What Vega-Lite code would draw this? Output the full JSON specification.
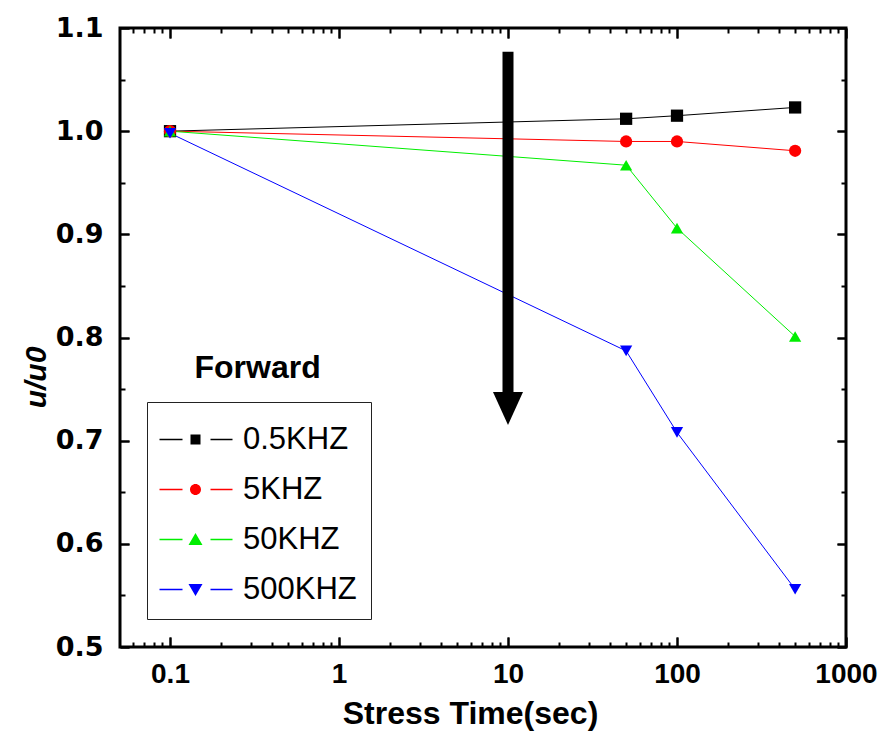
{
  "$schema": "https://vega.github.io/schema/vega-lite/v6.json",
  "width": 726,
  "height": 619,
  "autosize": {"type": "none"},
  "padding": {"left": 120, "top": 28, "right": 36, "bottom": 91},
  "background": "white",
  "view": {"stroke": "black", "strokeWidth": 3},
  "config": {"axis": {"grid": false, "labelColor": "black", "titleColor": "black", "labelOverlap": false, "labelFlush": false}},
  "layer": [
    {
      "data": {"values": [
        {"time": 0.1, "ratio": 1.0, "freq": "0.5KHZ"},
        {"time": 50, "ratio": 1.012, "freq": "0.5KHZ"},
        {"time": 100, "ratio": 1.015, "freq": "0.5KHZ"},
        {"time": 500, "ratio": 1.023, "freq": "0.5KHZ"},
        {"time": 0.1, "ratio": 1.0, "freq": "5KHZ"},
        {"time": 50, "ratio": 0.990, "freq": "5KHZ"},
        {"time": 100, "ratio": 0.990, "freq": "5KHZ"},
        {"time": 500, "ratio": 0.981, "freq": "5KHZ"},
        {"time": 0.1, "ratio": 1.0, "freq": "50KHZ"},
        {"time": 50, "ratio": 0.967, "freq": "50KHZ"},
        {"time": 100, "ratio": 0.906, "freq": "50KHZ"},
        {"time": 500, "ratio": 0.801, "freq": "50KHZ"},
        {"time": 0.1, "ratio": 0.998, "freq": "500KHZ"},
        {"time": 50, "ratio": 0.787, "freq": "500KHZ"},
        {"time": 100, "ratio": 0.708, "freq": "500KHZ"},
        {"time": 500, "ratio": 0.556, "freq": "500KHZ"}
      ]},
      "mark": {"type": "line", "strokeWidth": 1},
      "encoding": {
        "x": {
          "field": "time", "type": "quantitative",
          "scale": {"type": "log", "domain": [0.0506, 1000], "nice": false},
          "axis": {
            "orient": "bottom", "values": [0.1, 1, 10, 100, 1000], "format": "~g",
            "tickSize": -10, "tickColor": "black", "tickWidth": 2, "domain": false,
            "labelFont": "Liberation Sans", "labelFontWeight": "bold", "labelFontSize": 28, "labelPadding": 23,
            "title": "Stress Time(sec)", "titleFont": "Liberation Sans", "titleFontWeight": "bold", "titleFontSize": 32, "titlePadding": 10,
            "titleX": 350, "titleAlign": "center"
          }
        },
        "y": {
          "field": "ratio", "type": "quantitative",
          "scale": {"domain": [0.5, 1.1], "nice": false, "zero": false},
          "axis": {
            "orient": "left", "values": [0.5, 0.6, 0.7, 0.8, 0.9, 1.0, 1.1], "format": ".1f",
            "tickSize": -9, "tickColor": "black", "tickWidth": 2, "domain": false,
            "labelFont": "DejaVu Sans", "labelFontWeight": "bold", "labelFontSize": 27, "labelPadding": 26,
            "title": "u/u0", "titleFont": "Liberation Sans", "titleFontWeight": "bold", "titleFontStyle": "italic", "titleFontSize": 30, "titlePadding": 4,
            "titleY": 349, "titleAlign": "center"
          }
        },
        "color": {
          "field": "freq", "type": "nominal",
          "scale": {"domain": ["0.5KHZ", "5KHZ", "50KHZ", "500KHZ"], "range": ["#000000", "#ff0000", "#00ee00", "#0000ff"]},
          "legend": null
        }
      }
    },
    {
      "data": {"values": [
        {"time": 0.1, "ratio": 1.0, "freq": "0.5KHZ"},
        {"time": 50, "ratio": 1.012, "freq": "0.5KHZ"},
        {"time": 100, "ratio": 1.015, "freq": "0.5KHZ"},
        {"time": 500, "ratio": 1.023, "freq": "0.5KHZ"},
        {"time": 0.1, "ratio": 1.0, "freq": "5KHZ"},
        {"time": 50, "ratio": 0.990, "freq": "5KHZ"},
        {"time": 100, "ratio": 0.990, "freq": "5KHZ"},
        {"time": 500, "ratio": 0.981, "freq": "5KHZ"},
        {"time": 0.1, "ratio": 1.0, "freq": "50KHZ"},
        {"time": 50, "ratio": 0.967, "freq": "50KHZ"},
        {"time": 100, "ratio": 0.906, "freq": "50KHZ"},
        {"time": 500, "ratio": 0.801, "freq": "50KHZ"},
        {"time": 0.1, "ratio": 0.998, "freq": "500KHZ"},
        {"time": 50, "ratio": 0.787, "freq": "500KHZ"},
        {"time": 100, "ratio": 0.708, "freq": "500KHZ"},
        {"time": 500, "ratio": 0.556, "freq": "500KHZ"}
      ]},
      "mark": {"type": "point", "filled": true, "opacity": 1},
      "encoding": {
        "x": {
          "field": "time", "type": "quantitative",
          "axis": {"orient": "top", "values": [0.1, 1, 10, 100, 1000], "labels": false, "title": null, "tickSize": -10, "tickColor": "black", "tickWidth": 2, "domain": false}
        },
        "y": {
          "field": "ratio", "type": "quantitative",
          "axis": {"orient": "right", "values": [0.5, 0.6, 0.7, 0.8, 0.9, 1.0, 1.1], "labels": false, "title": null, "tickSize": -9, "tickColor": "black", "tickWidth": 2, "domain": false}
        },
        "color": {
          "field": "freq", "type": "nominal",
          "scale": {"domain": ["0.5KHZ", "5KHZ", "50KHZ", "500KHZ"], "range": ["#000000", "#ff0000", "#00ee00", "#0000ff"]},
          "legend": null
        },
        "shape": {
          "field": "freq", "type": "nominal",
          "scale": {"domain": ["0.5KHZ", "5KHZ", "50KHZ", "500KHZ"], "range": ["square", "circle", "triangle-up", "triangle-down"]},
          "legend": null
        },
        "size": {
          "field": "freq", "type": "nominal",
          "scale": {"domain": ["0.5KHZ", "5KHZ", "50KHZ", "500KHZ"], "range": [150, 150, 800, 800]},
          "legend": null
        }
      }
    },
    {
      "data": {"values": [
        {"time": 0.1, "ratio": 1.0, "freq": "0.5KHZ"},
        {"time": 0.1, "ratio": 1.0, "freq": "5KHZ"},
        {"time": 0.1, "ratio": 1.0, "freq": "50KHZ"},
        {"time": 0.1, "ratio": 0.998, "freq": "500KHZ"}
      ]},
      "mark": {"type": "point", "filled": true, "opacity": 0},
      "encoding": {
        "x": {
          "field": "time", "type": "quantitative",
          "axis": {"orient": "bottom", "values": [0.06,0.07,0.08,0.09,0.2,0.3,0.4,0.5,0.6,0.7,0.8,0.9,2,3,4,5,6,7,8,9,20,30,40,50,60,70,80,90,200,300,400,500,600,700,800,900], "labels": false, "title": null, "tickSize": -5, "tickColor": "black", "tickWidth": 2, "domain": false}
        },
        "y": {
          "field": "ratio", "type": "quantitative",
          "axis": {"orient": "left", "values": [0.55, 0.65, 0.75, 0.85, 0.95, 1.05], "labels": false, "title": null, "tickSize": -5, "tickColor": "black", "tickWidth": 2, "domain": false}
        },
        "color": {
          "field": "freq", "type": "nominal",
          "scale": {"domain": ["0.5KHZ", "5KHZ", "50KHZ", "500KHZ"], "range": ["#000000", "#ff0000", "#00ee00", "#0000ff"]},
          "legend": {
            "orient": "none", "legendX": 27, "legendY": 374,
            "title": " ", "titleFontSize": 6, "titlePadding": 2,
            "strokeColor": "#222222", "fillColor": "white", "padding": 14,
            "symbolSize": 100, "symbolOffset": 19, "symbolStrokeWidth": 0, "symbolOpacity": 1,
            "labelFont": "Liberation Sans", "labelFontSize": 31, "labelColor": "black", "labelOffset": 32, "rowPadding": 18
          }
        },
        "shape": {
          "field": "freq", "type": "nominal",
          "scale": {
            "domain": ["0.5KHZ", "5KHZ", "50KHZ", "500KHZ"],
            "range": [
              "M-1,-1 L1,-1 L1,1 L-1,1 Z M-7.2,-0.15 L-2.6,-0.15 L-2.6,0.15 L-7.2,0.15 Z M3,-0.15 L7.4,-0.15 L7.4,0.15 L3,0.15 Z",
              "M-1.1,0 A1.1,1.1 0 1,0 1.1,0 A1.1,1.1 0 1,0 -1.1,0 Z M-7.2,-0.15 L-2.6,-0.15 L-2.6,0.15 L-7.2,0.15 Z M3,-0.15 L7.4,-0.15 L7.4,0.15 L3,0.15 Z",
              "M0,-1.3 L1.4,1.1 L-1.4,1.1 Z M-7.2,-0.15 L-2.6,-0.15 L-2.6,0.15 L-7.2,0.15 Z M3,-0.15 L7.4,-0.15 L7.4,0.15 L3,0.15 Z",
              "M0,1.3 L1.4,-1.1 L-1.4,-1.1 Z M-7.2,-0.15 L-2.6,-0.15 L-2.6,0.15 L-7.2,0.15 Z M3,-0.15 L7.4,-0.15 L7.4,0.15 L3,0.15 Z"
            ]
          },
          "legend": {
            "orient": "none", "legendX": 27, "legendY": 374,
            "title": " ", "titleFontSize": 6, "titlePadding": 2,
            "strokeColor": "#222222", "fillColor": "white", "padding": 14,
            "symbolSize": 100, "symbolOffset": 19, "symbolStrokeWidth": 0, "symbolOpacity": 1,
            "labelFont": "Liberation Sans", "labelFontSize": 31, "labelColor": "black", "labelOffset": 32, "rowPadding": 18
          }
        }
      }
    },
    {
      "data": {"values": [{"time": 10, "top": 1.077, "bottom": 0.744}]},
      "mark": {"type": "rule", "strokeWidth": 11, "color": "black"},
      "encoding": {
        "x": {
          "field": "time", "type": "quantitative",
          "axis": {"orient": "top", "values": [0.06,0.07,0.08,0.09,0.2,0.3,0.4,0.5,0.6,0.7,0.8,0.9,2,3,4,5,6,7,8,9,20,30,40,50,60,70,80,90,200,300,400,500,600,700,800,900], "labels": false, "title": null, "tickSize": -5, "tickColor": "black", "tickWidth": 2, "domain": false}
        },
        "y": {
          "field": "top", "type": "quantitative",
          "axis": {"orient": "right", "values": [0.55, 0.65, 0.75, 0.85, 0.95, 1.05], "labels": false, "title": null, "tickSize": -5, "tickColor": "black", "tickWidth": 2, "domain": false}
        },
        "y2": {"field": "bottom"}
      }
    },
    {
      "data": {"values": [{"time": 10, "ratio": 0.7348}]},
      "mark": {"type": "point", "filled": true, "opacity": 1, "color": "black", "shape": "M-1,-0.85 L1,-0.85 L0,1.35 Z", "size": 900},
      "encoding": {
        "x": {
          "field": "time", "type": "quantitative",
          "axis": {"orient": "bottom", "values": [0.1, 1, 10, 100, 1000], "labels": false, "title": null, "tickSize": -10, "tickColor": "black", "tickWidth": 2, "domain": false}
        },
        "y": {
          "field": "ratio", "type": "quantitative",
          "axis": {"orient": "left", "values": [0.5, 0.6, 0.7, 0.8, 0.9, 1.0, 1.1], "labels": false, "title": null, "tickSize": -9, "tickColor": "black", "tickWidth": 2, "domain": false}
        }
      }
    },
    {
      "data": {"values": [{"time": 0.33, "ratio": 0.77, "text": "Forward"}]},
      "mark": {"type": "text", "font": "Liberation Sans", "fontWeight": "bold", "fontSize": 32, "align": "center", "baseline": "middle", "color": "black"},
      "encoding": {
        "x": {
          "field": "time", "type": "quantitative",
          "axis": {"orient": "top", "values": [0.1, 1, 10, 100, 1000], "labels": false, "title": null, "tickSize": -10, "tickColor": "black", "tickWidth": 2, "domain": false}
        },
        "y": {
          "field": "ratio", "type": "quantitative",
          "axis": {"orient": "right", "values": [0.5, 0.6, 0.7, 0.8, 0.9, 1.0, 1.1], "labels": false, "title": null, "tickSize": -9, "tickColor": "black", "tickWidth": 2, "domain": false}
        },
        "text": {"field": "text"}
      }
    }
  ],
  "resolve": {"axis": {"x": "independent", "y": "independent"}, "scale": {"shape": "independent", "color": "independent"}}
}
